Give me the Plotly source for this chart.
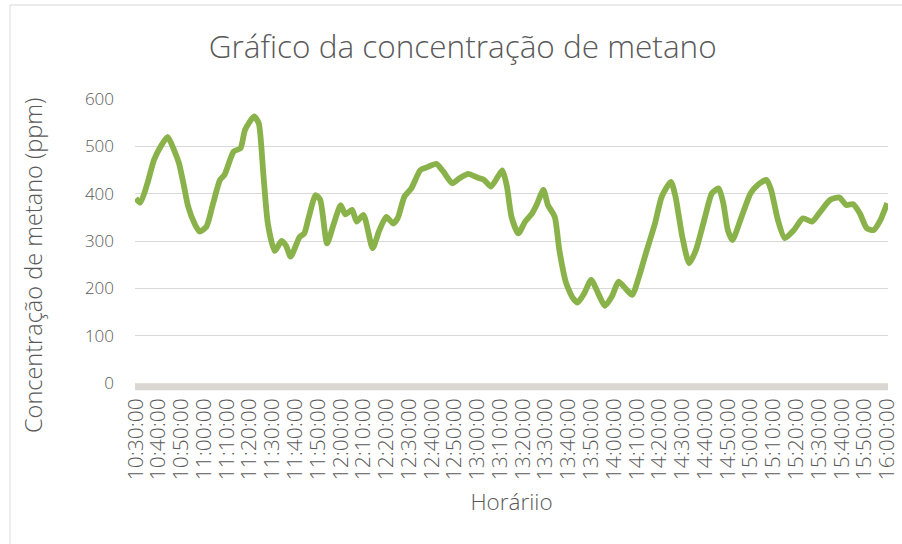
import plotly.graph_objects as go

# Time of each reading (HH:MM) and methane concentration (ppm)
times = ["10:30","10:32","10:35","10:38","10:41","10:44","10:47","10:49","10:51","10:53",
         "10:56","10:58","11:01","11:04","11:07","11:09","11:13","11:16","11:18","11:22",
         "11:24","11:26","11:28","11:31","11:34","11:36","11:38","11:42","11:44","11:46",
         "11:49","11:51","11:54","11:57","12:00","12:02","12:05","12:07","12:10","12:14",
         "12:17","12:20","12:23","12:25","12:28","12:31","12:35","12:38","12:42","12:45",
         "12:49","12:52","12:56","13:00","13:03","13:06","13:09","13:11","13:13","13:15",
         "13:18","13:21","13:24","13:26","13:29","13:31","13:34","13:36","13:39","13:42",
         "13:44","13:47","13:50","13:53","13:56","13:59","14:02","14:05","14:08","14:11",
         "14:14","14:18","14:21","14:25","14:27","14:30","14:33","14:36","14:40","14:43",
         "14:46","14:48","14:50","14:52","14:56","15:00","15:03","15:07","15:09","15:12",
         "15:15","15:19","15:23","15:27","15:30","15:35","15:39","15:42","15:45","15:48",
         "15:51","15:54","15:57","16:00"]
methane = [390,381,420,471,500,520,490,464,420,373,
           335,320,330,380,429,440,489,496,535,563,
           549,443,337,279,300,290,267,309,316,351,
           397,387,295,337,376,356,366,341,355,285,
           323,351,337,348,394,411,450,456,463,447,
           422,432,442,434,429,415,436,449,415,351,
           316,341,358,376,408,376,351,281,211,179,
           170,190,218,190,163,182,214,200,186,225,
           274,337,394,425,394,309,253,281,351,401,
           411,380,323,302,351,401,418,429,408,344,
           306,323,348,341,358,387,392,376,378,358,
           327,323,344,380]

tick_labels = ["10:30:00","10:40:00","10:50:00","11:00:00","11:10:00","11:20:00","11:30:00",
               "11:40:00","11:50:00","12:00:00","12:10:00","12:20:00","12:30:00","12:40:00",
               "12:50:00","13:00:00","13:10:00","13:20:00","13:30:00","13:40:00","13:50:00",
               "14:00:00","14:10:00","14:20:00","14:30:00","14:40:00","14:50:00","15:00:00",
               "15:10:00","15:20:00","15:30:00","15:40:00","15:50:00","16:00:00"]
y_ticks = [0, 100, 200, 300, 400, 500, 600]

DAY = "2024-01-01 "
x_vals = [DAY + t + ":00" for t in times]
tick_vals = [DAY + t for t in tick_labels]

FONT = "Open Sans"
GRAY = "#595959"
W = 300

fig = go.Figure()
fig.add_trace(go.Scatter(
    x=x_vals, y=methane, mode="lines",
    line=dict(color="#8AB24A", width=5.8, shape="spline", smoothing=0.6),
    showlegend=False, hoverinfo="x+y",
))

fig.update_layout(
    width=902, height=544,
    margin=dict(l=135, r=14, t=99, b=161, autoexpand=False),
    paper_bgcolor="white", plot_bgcolor="white",
    font=dict(family=FONT, color=GRAY, weight=W),
    title=dict(text="Gráfico da concentração de metano", x=0.513, xanchor="center",
               y=0.913, yanchor="middle", font=dict(size=31.5, color=GRAY, family=FONT, weight=W)),
    xaxis=dict(
        type="date",
        range=[DAY + "10:29:40", DAY + "16:00:20"],
        tickmode="array", tickvals=tick_vals, ticktext=tick_labels,
        tickangle=-90, tickfont=dict(size=21, color=GRAY, family=FONT, weight=W),
        showgrid=False, zeroline=False, showline=False, ticks="",
        ticklabelstandoff=10,
        title=dict(text="Horáriio", font=dict(size=22.5, color=GRAY, family=FONT, weight=W), standoff=15),
    ),
    yaxis=dict(
        range=[0, 600], tickmode="array", tickvals=y_ticks,
        tickfont=dict(size=17, color=GRAY, family=FONT, weight=W),
        showgrid=True, gridcolor="#D9D9D9", gridwidth=1.3,
        zeroline=False, showline=False, ticks="",
        ticklabelstandoff=20,
    ),
    annotations=[
        dict(text="Concentração de metano (ppm)", textangle=-90, showarrow=False,
             xref="paper", yref="paper", x=-0.1355, y=0.4155,
             xanchor="center", yanchor="middle",
             font=dict(size=23.5, color=GRAY, family=FONT, weight=W)),
    ],
    shapes=[
        # thick category axis line
        dict(type="line", xref="paper", yref="paper", x0=0, x1=1, y0=-0.013, y1=-0.013,
             line=dict(color="#DAD6D1", width=7), layer="below"),
        # chart area border (left and top)
        dict(type="line", xref="paper", yref="paper", x0=-0.166, x1=-0.166, y0=-0.6, y1=1.331,
             line=dict(color="#D9D9D9", width=1)),
        dict(type="line", xref="paper", yref="paper", x0=-0.166, x1=1.1, y0=1.331, y1=1.331,
             line=dict(color="#D9D9D9", width=1)),
    ],
)

fig.write_html("out.html", config={"displayModeBar": False},
               post_script="document.body.style.margin='0';")
